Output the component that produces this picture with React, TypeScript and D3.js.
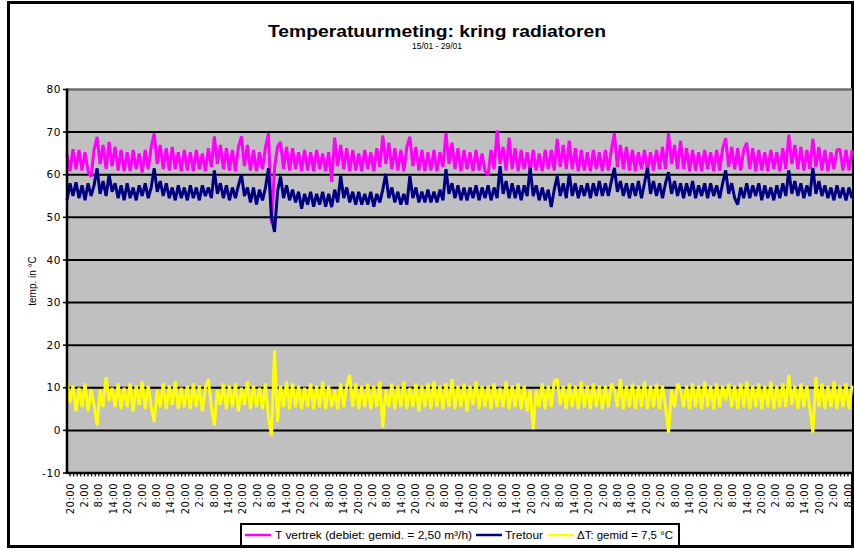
import React from 'react';
import * as d3 from 'd3';

const tVertrek = [
  64.8, 60.8, 66, 61.3, 65.8, 61, 65.3, 60.8, 59.5, 65.8, 68.9, 62.5, 67, 61.3, 67.7, 62, 66.5, 61, 65.8, 60.8,
  65.3, 60.8, 65.8, 61.3, 65, 60.5, 65.8, 61.3, 66.5, 69.7, 62.5, 67, 61.3, 66.2, 61, 66.5, 61.3, 65.3, 60.8, 65.8,
  61, 65.3, 60.8, 65.8, 61.3, 65, 60.8, 66.2, 61.8, 69, 62.5, 67, 61.3, 66.2, 61, 65.8, 60.8, 66.5, 69, 62,
  67, 61, 65.8, 60.8, 65.3, 61.3, 66.5, 69.7, 48.6, 61.5, 66.5, 67.7, 61.3, 66.5, 61, 66.2, 61.3, 65.3, 60.8, 65.8,
  61, 65.3, 60.8, 65.8, 61.3, 65, 60.8, 65.3, 58.3, 68.7, 62, 67, 61.3, 66.2, 60.8, 65.8, 61, 65, 60.8, 65.8,
  61.3, 65.3, 60.8, 66.2, 61.8, 69.2, 62.5, 67.5, 61.3, 66.2, 61, 65.8, 60.8, 66.5, 68.9, 62, 66.5, 61, 65.8, 60.8,
  65.3, 61, 65.8, 60.8, 65.3, 61.8, 69.8, 62.5, 67.5, 61.3, 66.2, 60.8, 65.8, 61.3, 65.3, 60.8, 65.8, 61, 65, 60.8,
  60, 65.8, 61.3, 70.4, 62.5, 66.5, 61, 68.7, 61.3, 66.2, 60.8, 65.8, 61.3, 65.3, 60.8, 65.8, 61, 65, 60.8, 65.8,
  61.3, 65.8, 61, 68.4, 61.8, 67, 61.3, 68, 61.3, 66.2, 60.8, 65.8, 61, 65.3, 60.8, 65.8, 61.3, 65.3, 60.8, 65.8,
  61, 65.8, 69.8, 61.8, 67, 61.3, 66.5, 61, 65.8, 60.8, 65.3, 61.3, 65.8, 60.8, 65.3, 61, 65.8, 61.3, 66.5, 61.3,
  69.8, 62.5, 67, 61.3, 68, 61.3, 66.2, 60.8, 65.8, 61, 65.3, 60.8, 65.8, 61.3, 65.3, 60.8, 65.8, 61, 66.2, 68.6,
  61.8, 66.5, 61.3, 66.2, 61, 65.8, 67.5, 61.3, 66.2, 60.8, 65.8, 61, 65.3, 60.8, 65.8, 61.3, 65.3, 60.8, 66.2, 61.3,
  69.4, 62.5, 67, 61.3, 66.5, 61, 65.8, 61.3, 68.4, 61.8, 66.5, 61, 65.8, 60.8, 65.3, 61.3, 65.8, 66, 61, 65.8,
  61, 65.8,
];

const tRetour = [
  54, 58, 55, 58.2, 54.5, 57.5, 54, 58, 55, 57.5, 61.5, 55.5, 58.5, 55, 60, 56, 58, 54.5, 57.5, 54,
  58, 54.5, 57, 54, 57.5, 55, 58, 54.5, 57, 61.5, 56, 58.5, 55, 58, 54.5, 57, 54, 57.5, 54.5, 57,
  54, 57.5, 54.5, 57, 54, 57.5, 55, 57, 54.5, 61, 55.5, 58, 54.5, 57.5, 54, 57, 54.5, 57.5, 60, 55,
  57, 53.5, 57, 53, 56.5, 54, 57, 61.5, 50, 46.6, 56, 59.6, 54.5, 57.5, 54, 56.5, 53.5, 56, 52, 55.5,
  53, 56, 52.5, 55.5, 53, 56, 52.5, 55.5, 52.4, 56.5, 53.5, 59.7, 54.5, 57, 53.5, 56, 53, 56, 53, 55.5,
  53, 56, 52.5, 55.5, 53.5, 56.5, 60.2, 54.5, 57, 53.5, 56, 53, 55.5, 53, 59.7, 54.5, 57, 53.5, 56, 53.5,
  56.5, 53.5, 56, 53.5, 56.5, 54, 61.3, 55.5, 58, 54.5, 57.5, 54, 57, 54, 57, 54.5, 57.5, 54, 57, 54.5,
  57.5, 54, 57, 54.5, 62, 55.5, 58.5, 54.5, 58, 54.5, 57.5, 54, 57.5, 55, 61.6, 55, 57.5, 54, 57, 54,
  56.5, 52.4, 56.5, 59.7, 55, 58, 54.5, 60.2, 55, 58, 54.5, 57.5, 55, 58, 54.5, 58, 55, 58.5, 55, 58,
  55, 58.5, 61.6, 56, 58.5, 55, 58, 54.5, 58, 55, 58.5, 54.5, 58, 61.6, 55.5, 58.5, 55, 58, 54.5, 58,
  60.6, 55.5, 58.5, 55, 58, 54.5, 58, 55, 58.5, 54.5, 57.5, 55, 58, 54.5, 58, 55, 57.5, 54.5, 58, 61,
  55.5, 58, 54.5, 53, 57, 54.5, 58, 54.5, 57.5, 55, 58, 54, 57.5, 54.5, 57, 54, 57.5, 54.5, 58, 55,
  61, 55.5, 58.5, 55, 58, 54.5, 57.5, 55, 61.6, 55.5, 58.5, 55, 57.5, 54.5, 57, 54, 57.5, 54.5, 57, 54,
  57, 54.5,
];

const deltaT = [
  11.5, 6.5, 10.5, 4.5, 10, 5.5, 11, 4.5, 9.5, 6, 1.2, 9.5, 5.5, 12.5, 7, 10, 5.5, 11, 5, 10,
  5.5, 11, 4.5, 10.5, 6, 11.5, 5, 10.5, 5.5, 2, 9.5, 5.5, 11, 5, 10.5, 6, 11.5, 5, 10, 5.5,
  10.5, 5, 11, 5.5, 10.5, 4.5, 10, 12, 5.5, 1.2, 9.5, 6, 11, 5, 10.5, 5.5, 11, 4.5, 10, 6,
  11.5, 5, 10.5, 5.5, 10, 5, 11, 3.1, -1.2, 18.8, 2, 10.5, 5.5, 11.5, 5, 11, 5.5, 10.5, 5, 10,
  5.5, 11, 5, 10.5, 5.5, 11.5, 5, 10.5, 5.5, 9.5, 5, 11, 5.5, 10.5, 13, 5.5, 11, 5, 10.5, 5.5,
  11, 5, 10.5, 5.5, 11.5, 0.7, 9.5, 5.5, 11, 5, 10.5, 5.5, 11.5, 5, 10, 5.5, 11, 4.5, 10.5, 5.5,
  11, 5, 11.5, 5.5, 10.5, 5, 11, 5.5, 12, 5, 10.5, 5.5, 11, 4.5, 10.5, 6, 11.5, 5, 10.5, 5.5,
  10.5, 5, 11, 5.5, 10, 5.5, 11.5, 5, 10.5, 5.5, 11, 5, 10.5, 4.5, 9.5, 0.3, 9.5, 5.5, 11, 5,
  10.5, 5.5, 11.5, 12, 6, 10.5, 5, 11, 5.5, 10.5, 5, 11.5, 5.5, 10.5, 5, 11, 5.5, 10.5, 5, 10.5,
  5.5, 11, 9.5, 5.5, 12, 5, 10.5, 5.5, 11, 5, 10.5, 5.5, 11.5, 5, 10.5, 5.5, 11, 5, 10.5, 5.5,
  -0.5, 9.5, 5.5, 11, 9.5, 5.5, 10.5, 5, 11, 5.5, 10.5, 5, 11.5, 5.5, 10.5, 5, 11, 5.5, 10.5, 7,
  11, 5.5, 10.5, 5, 11, 5.5, 11.5, 5, 10.5, 5.5, 11, 5, 10.5, 5.5, 11.5, 5, 10.5, 5.5, 11, 5.5,
  13, 6, 10.5, 5, 11, 5.5, 10.5, 5, -0.5, 12.5, 5.5, 11, 5, 10.5, 5.5, 11.5, 5, 10.5, 5.5, 11,
  5, 10.5,
];

const xLabels = [
  '20:00', '2:00', '8:00', '14:00', '20:00', '2:00', '8:00', '14:00', '20:00', '2:00', '8:00', '14:00',
  '20:00', '2:00', '8:00', '14:00', '20:00', '2:00', '8:00', '14:00', '20:00', '2:00', '8:00', '14:00',
  '20:00', '2:00', '8:00', '14:00', '20:00', '2:00', '8:00', '14:00', '20:00', '2:00', '8:00', '14:00',
  '20:00', '2:00', '8:00', '14:00', '20:00', '2:00', '8:00', '14:00', '20:00', '2:00', '8:00', '14:00',
  '20:00', '2:00', '8:00', '14:00', '20:00', '2:00', '8:00',
];

const yTicks = [-10, 0, 10, 20, 30, 40, 50, 60, 70, 80];

const titleText = 'Temperatuurmeting: kring radiatoren';
const subtitleText = '15/01 - 29/01';
const yTitleText = 'temp. in °C';
const seriesNames = ['T vertrek (debiet: gemid. = 2,50 m³/h)', 'Tretour', 'ΔT: gemid = 7,5 °C'];
const seriesColors = ['#FF00FF', '#000080', '#FFFF00'];

export default function App() {
  const W = 854;
  const H = 549;
  const left = 67;
  const right = 852;
  const top = 89.5;
  const bottom = 473;

  const x = d3.scaleLinear().domain([0, tVertrek.length - 1]).range([left, right]);
  const y = d3.scaleLinear().domain([-10, 80]).range([bottom, top]);
  const xl = d3
    .scalePoint<number>()
    .domain(xLabels.map((_, i) => i))
    .range([70, 848]);

  const line = d3
    .line<number>()
    .x((_, i) => x(i))
    .y((d) => y(d));

  const series = [tVertrek, tRetour, deltaT];

  const step = xl.step();
  const minorTicks = d3.range(0, (xLabels.length - 1) * 4 + 1).map((k) => 70 + (k * step) / 4);

  const legendItems = [
    { sx: 245, tx: 275, tw: 197 },
    { sx: 476, tx: 505, tw: 38 },
    { sx: 548, tx: 577, tw: 96 },
  ];

  return (
    <svg
      width={W}
      height={H}
      style={{ position: 'absolute', left: 0, top: 0, background: '#fff' }}
      fontFamily="'Liberation Sans', Arial, sans-serif"
    >
      <rect x={0} y={0} width={W} height={H} fill="#fff" />
      <rect x={8.5} y={2.5} width={844} height={544} fill="none" stroke="#000" strokeWidth={3} />

      <text x={437} y={37} textAnchor="middle" fontSize={16.5} fontWeight="bold" textLength={338} lengthAdjust="spacingAndGlyphs">
        {titleText}
      </text>
      <text x={437} y={48.5} textAnchor="middle" fontSize={8.5}>
        {subtitleText}
      </text>

      <rect x={left} y={top} width={right - left} height={bottom - top} fill="#C0C0C0" />
      {yTicks.slice(1, -1).map((t) => (
        <line key={t} x1={left} x2={right} y1={y(t)} y2={y(t)} stroke="#000" strokeWidth={2} />
      ))}
      <line x1={left} x2={right} y1={y(80)} y2={y(80)} stroke="#6e6e6e" strokeWidth={2.5} />

      {series.map((s, k) => (
        <path key={k} d={line(s) || ''} fill="none" stroke={seriesColors[k]} strokeWidth={3} strokeLinejoin="bevel" />
      ))}

      <line x1={left} x2={left} y1={top - 1} y2={bottom + 1} stroke="#000" strokeWidth={2.5} />
      <line x1={left} x2={right} y1={bottom} y2={bottom} stroke="#000" strokeWidth={2.5} />
      {yTicks.map((t) => (
        <g key={t}>
          <line x1={left - 4} x2={left} y1={y(t)} y2={y(t)} stroke="#000" strokeWidth={1.5} />
          <text x={61} y={y(t)} dy="0.35em" textAnchor="end" fontSize={10.5} fontFamily="'DejaVu Sans', sans-serif" letterSpacing={0.6}>
            {t}
          </text>
        </g>
      ))}
      {minorTicks.map((mx, k) => (
        <line key={k} x1={mx} x2={mx} y1={bottom} y2={bottom + 3.5} stroke="#000" strokeWidth={1.2} />
      ))}
      {xLabels.map((lab, i) => (
        <text
          key={i}
          transform={`translate(${xl(i)},483) rotate(-90)`}
          dy="0.35em"
          textAnchor="end"
          fontSize={10}
          fontFamily="'DejaVu Sans', sans-serif"
          letterSpacing={0.5}
        >
          {lab}
        </text>
      ))}

      <text transform="translate(36,281) rotate(-90)" textAnchor="middle" fontSize={10}>
        {yTitleText}
      </text>

      <rect x={241} y={524} width={438} height={22} fill="#fff" stroke="#000" strokeWidth={2} />
      {legendItems.map((it, k) => (
        <g key={k}>
          <line x1={it.sx} x2={it.sx + 26} y1={535} y2={535} stroke={seriesColors[k]} strokeWidth={2.5} />
          <text x={it.tx} y={539} fontSize={10.5} textLength={it.tw} lengthAdjust="spacingAndGlyphs">
            {seriesNames[k]}
          </text>
        </g>
      ))}
    </svg>
  );
}
